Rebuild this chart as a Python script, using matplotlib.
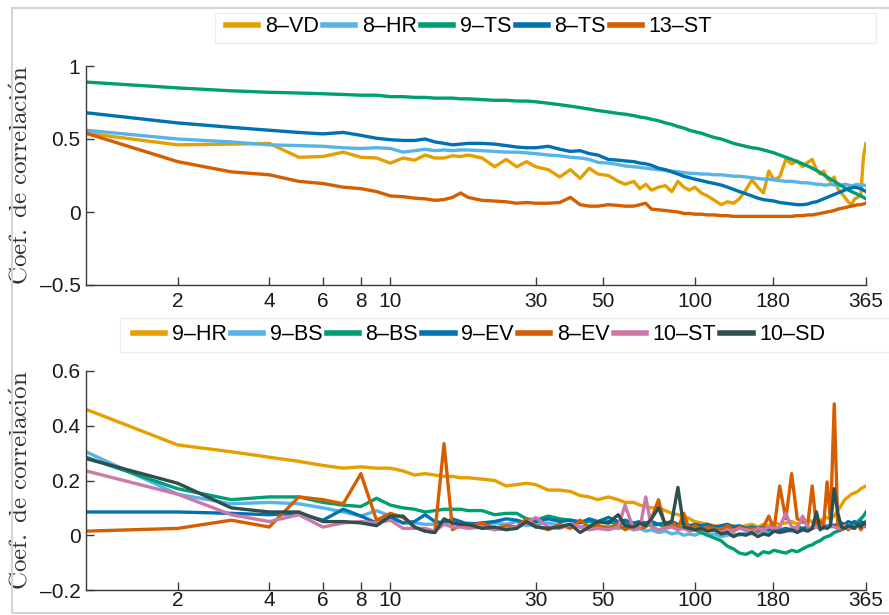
import matplotlib
matplotlib.use("Agg")
import matplotlib.pyplot as plt
from matplotlib.ticker import FixedLocator, FixedFormatter, NullLocator
from matplotlib.patches import Rectangle

plt.rcParams["font.family"] = "Liberation Sans"
plt.rcParams["mathtext.fontset"] = "cm"

# lag in days (shared by every series)
days = [1, 2, 3, 4, 5, 6, 7, 8, 9, 10, 11, 12, 13, 14, 15, 16, 17, 18, 20,
        22, 24, 26, 28, 30, 33, 36, 39, 42, 45, 48,
        52, 56, 59, 63, 66, 69, 72, 76, 80, 84, 88, 92, 96, 100,
        105, 110, 116, 122, 128, 134, 140, 147, 154, 161, 168, 175, 182, 190,
        199, 208, 217, 226, 235, 243, 251, 258, 265, 272, 279, 287, 295, 303,
        311, 319, 327, 335, 343, 351, 358, 365]

xticks = [2, 4, 6, 8, 10, 30, 50, 100, 180, 365]
xtick_labels = ["2", "4", "6", "8", "10", "30", "50", "100", "180", "365"]

# ---- top panel
top_labels = ["8–VD", "8–HR", "9–TS", "8–TS", "13–ST"]
vd8 = [0.54, 0.46, 0.465, 0.47, 0.375, 0.38, 0.41, 0.375, 0.37, 0.335, 0.37, 0.355, 0.39, 0.37, 0.37, 0.385, 0.38, 0.39, 0.37,
       0.31, 0.36, 0.31, 0.345, 0.31, 0.29, 0.24, 0.29, 0.23, 0.30, 0.26,
       0.25, 0.21, 0.19, 0.21, 0.16, 0.19, 0.15, 0.17, 0.18, 0.14, 0.21, 0.17, 0.15, 0.17,
       0.13, 0.11, 0.08, 0.05, 0.07, 0.06, 0.09, 0.15, 0.22, 0.17, 0.13, 0.28, 0.22, 0.24,
       0.36, 0.33, 0.35, 0.31, 0.34, 0.36, 0.29, 0.26, 0.28, 0.23, 0.21, 0.24, 0.16, 0.13,
       0.10, 0.07, 0.05, 0.09, 0.10, 0.12, 0.38, 0.47]
hr8 = [0.56, 0.50, 0.48, 0.46, 0.455, 0.45, 0.44, 0.435, 0.44, 0.435, 0.41, 0.42, 0.43, 0.42, 0.425, 0.42, 0.425, 0.425, 0.42,
       0.415, 0.41, 0.41, 0.405, 0.40, 0.39, 0.385, 0.375, 0.37, 0.36, 0.34,
       0.335, 0.325, 0.315, 0.31, 0.305, 0.30, 0.295, 0.29, 0.285, 0.28, 0.275, 0.27, 0.265, 0.265,
       0.26, 0.26, 0.255, 0.255, 0.25, 0.245, 0.245, 0.24, 0.235, 0.23, 0.225, 0.225, 0.22, 0.215,
       0.21, 0.21, 0.205, 0.20, 0.20, 0.195, 0.19, 0.19, 0.185, 0.185, 0.19, 0.185, 0.18, 0.185,
       0.19, 0.185, 0.18, 0.185, 0.19, 0.18, 0.185, 0.18]
ts9 = [0.89, 0.85, 0.83, 0.82, 0.815, 0.81, 0.805, 0.80, 0.80, 0.79, 0.79, 0.785, 0.785, 0.78, 0.78, 0.78, 0.775, 0.775, 0.77,
       0.765, 0.765, 0.76, 0.76, 0.755, 0.745, 0.735, 0.725, 0.715, 0.705, 0.695,
       0.685, 0.675, 0.67, 0.66, 0.65, 0.645, 0.635, 0.625, 0.61, 0.60, 0.585, 0.575, 0.56, 0.55,
       0.54, 0.525, 0.51, 0.50, 0.485, 0.47, 0.46, 0.45, 0.44, 0.435, 0.425, 0.415, 0.405, 0.39,
       0.375, 0.36, 0.345, 0.33, 0.315, 0.30, 0.285, 0.27, 0.255, 0.24, 0.225, 0.21, 0.195, 0.18,
       0.165, 0.15, 0.14, 0.13, 0.12, 0.11, 0.10, 0.09]
ts8 = [0.68, 0.61, 0.58, 0.56, 0.545, 0.535, 0.545, 0.525, 0.505, 0.495, 0.49, 0.49, 0.50, 0.48, 0.47, 0.46, 0.465, 0.47, 0.47,
       0.465, 0.455, 0.445, 0.44, 0.44, 0.45, 0.43, 0.415, 0.42, 0.40, 0.39,
       0.36, 0.355, 0.35, 0.345, 0.335, 0.33, 0.32, 0.30, 0.29, 0.275, 0.26, 0.245, 0.235, 0.225,
       0.215, 0.205, 0.195, 0.185, 0.17, 0.155, 0.14, 0.125, 0.11, 0.095, 0.085, 0.08, 0.075, 0.065,
       0.06, 0.055, 0.05, 0.05, 0.055, 0.065, 0.07, 0.08, 0.09, 0.10, 0.11, 0.12, 0.13, 0.14,
       0.15, 0.16, 0.165, 0.17, 0.165, 0.16, 0.15, 0.14]
st13 = [0.54, 0.345, 0.275, 0.255, 0.21, 0.195, 0.17, 0.16, 0.14, 0.11, 0.105, 0.095, 0.09, 0.08, 0.085, 0.10, 0.13, 0.10, 0.08,
        0.075, 0.07, 0.06, 0.065, 0.06, 0.06, 0.065, 0.10, 0.05, 0.04, 0.04,
        0.05, 0.045, 0.04, 0.04, 0.05, 0.06, 0.02, 0.015, 0.01, 0.005, 0.0, -0.01, -0.01, -0.015,
        -0.015, -0.02, -0.02, -0.025, -0.025, -0.03, -0.03, -0.03, -0.03, -0.03, -0.03, -0.03, -0.03, -0.03,
        -0.03, -0.03, -0.025, -0.025, -0.02, -0.02, -0.015, -0.01, -0.005, 0.0, 0.005, 0.01, 0.02, 0.025,
        0.03, 0.035, 0.04, 0.045, 0.05, 0.05, 0.055, 0.06]
top_series = [vd8, hr8, ts9, ts8, st13]

# ---- bottom panel
bot_labels = ["9–HR", "9–BS", "8–BS", "9–EV", "8–EV", "10–ST", "10–SD"]
hr9 = [0.46, 0.33, 0.305, 0.285, 0.27, 0.255, 0.245, 0.25, 0.245, 0.245, 0.235, 0.22, 0.225, 0.22, 0.215, 0.215, 0.21, 0.21, 0.205,
       0.20, 0.18, 0.185, 0.19, 0.185, 0.165, 0.165, 0.16, 0.145, 0.14, 0.13,
       0.14, 0.13, 0.12, 0.12, 0.11, 0.105, 0.10, 0.10, 0.09, 0.08, 0.075, 0.07, 0.06, 0.05,
       0.045, 0.04, 0.035, 0.03, 0.03, 0.035, 0.03, 0.035, 0.04, 0.03, 0.04, 0.035, 0.045, 0.04,
       0.045, 0.05, 0.04, 0.05, 0.055, 0.05, 0.06, 0.055, 0.06, 0.065, 0.06, 0.07, 0.09, 0.11,
       0.13, 0.14, 0.15, 0.155, 0.16, 0.17, 0.175, 0.18]
bs9 = [0.305, 0.15, 0.115, 0.12, 0.115, 0.10, 0.085, 0.07, 0.09, 0.07, 0.045, 0.045, 0.04, 0.04, 0.045, 0.05, 0.04, 0.045, 0.04,
       0.045, 0.04, 0.05, 0.035, 0.04, 0.045, 0.035, 0.04, 0.03, 0.035, 0.03,
       0.035, 0.025, 0.03, 0.02, 0.025, 0.015, 0.02, 0.01, 0.015, 0.005, 0.01, 0.0, 0.005, 0.0,
       0.01, 0.0, 0.005, -0.005, 0.0, 0.005, 0.0, 0.01, 0.005, 0.01, 0.015, 0.01, 0.02, 0.015,
       0.02, 0.015, 0.02, 0.025, 0.02, 0.025, 0.03, 0.025, 0.03, 0.035, 0.03, 0.035, 0.04, 0.035,
       0.04, 0.03, 0.035, 0.04, 0.035, 0.04, 0.045, 0.04]
bs8 = [0.285, 0.17, 0.13, 0.14, 0.14, 0.12, 0.11, 0.105, 0.135, 0.11, 0.10, 0.095, 0.085, 0.09, 0.095, 0.095, 0.095, 0.09, 0.09,
       0.075, 0.08, 0.08, 0.06, 0.055, 0.07, 0.06, 0.055, 0.05, 0.05, 0.045,
       0.05, 0.04, 0.045, 0.04, 0.035, 0.04, 0.035, 0.04, 0.03, 0.035, 0.03, 0.025, 0.03, 0.02,
       0.01, 0.0, -0.01, -0.02, -0.04, -0.05, -0.065, -0.07, -0.06, -0.075, -0.06, -0.065, -0.055, -0.06,
       -0.065, -0.055, -0.06, -0.05, -0.04, -0.035, -0.025, -0.02, -0.01, -0.005, 0.0, 0.01, 0.015, 0.02,
       0.025, 0.03, 0.035, 0.04, 0.05, 0.06, 0.07, 0.085]
ev9 = [0.085, 0.085, 0.08, 0.075, 0.08, 0.055, 0.095, 0.07, 0.045, 0.065, 0.045, 0.05, 0.075, 0.05, 0.045, 0.06, 0.05, 0.04, 0.045,
       0.05, 0.06, 0.055, 0.045, 0.05, 0.06, 0.05, 0.055, 0.045, 0.06, 0.05,
       0.065, 0.05, 0.055, 0.045, 0.05, 0.045, 0.05, 0.04, 0.045, 0.05, 0.04, 0.045, 0.035, 0.04,
       0.035, 0.04, 0.03, 0.035, 0.04, 0.03, 0.035, 0.025, 0.03, 0.025, 0.03, 0.02, 0.025, 0.02,
       0.025, 0.02, 0.03, 0.025, 0.03, 0.025, 0.035, 0.03, 0.035, 0.03, 0.04, 0.035, 0.04, 0.045,
       0.04, 0.05, 0.045, 0.05, 0.04, 0.05, 0.045, 0.05]
ev8 = [0.015, 0.025, 0.055, 0.03, 0.14, 0.13, 0.115, 0.225, 0.055, 0.08, 0.065, 0.03, 0.015, 0.01, 0.335, 0.02, 0.04, 0.03, 0.045,
       0.025, 0.035, 0.03, 0.06, 0.035, 0.02, 0.04, 0.025, 0.055, 0.03, 0.035,
       0.025, 0.04, 0.02, 0.035, 0.025, 0.03, 0.06, 0.13, 0.03, 0.05, 0.025, 0.08, 0.02, 0.035,
       0.02, 0.03, 0.025, 0.02, 0.035, 0.015, 0.03, 0.02, 0.025, 0.015, 0.03, 0.07, 0.02, 0.18,
       0.06, 0.225, 0.06, 0.05, 0.04, 0.18, 0.03, 0.05, 0.04, 0.195, 0.05, 0.48, 0.03, 0.02,
       0.035, 0.02, 0.03, 0.025, 0.04, 0.02, 0.035, 0.03]
st10 = [0.235, 0.15, 0.075, 0.05, 0.075, 0.03, 0.045, 0.05, 0.045, 0.055, 0.025, 0.025, 0.025, 0.015, 0.04, 0.03, 0.03, 0.025, 0.03,
        0.02, 0.025, 0.03, 0.045, 0.065, 0.03, 0.025, 0.04, 0.03, 0.02, 0.025,
        0.02, 0.03, 0.11, 0.02, 0.025, 0.14, 0.03, 0.02, 0.025, 0.03, 0.02, 0.025, 0.015, 0.02,
        0.025, 0.015, 0.02, 0.01, 0.02, 0.015, 0.025, 0.02, 0.015, 0.025, 0.02, 0.03, 0.025, 0.03,
        0.08, 0.03, 0.025, 0.07, 0.03, 0.025, 0.03, 0.035, 0.025, 0.03, 0.035, 0.03, 0.025, 0.03,
        0.035, 0.03, 0.025, 0.03, 0.04, 0.03, 0.035, 0.04]
sd10 = [0.28, 0.19, 0.10, 0.085, 0.085, 0.05, 0.05, 0.045, 0.035, 0.07, 0.07, 0.03, 0.015, 0.01, 0.06, 0.045, 0.04, 0.04, 0.025,
        0.03, 0.02, 0.025, 0.05, 0.03, 0.025, 0.03, 0.04, 0.01, 0.03, 0.05,
        0.045, 0.075, 0.035, 0.03, 0.045, 0.035, 0.06, 0.10, 0.04, 0.05, 0.175, 0.03, 0.025, 0.02,
        0.025, 0.015, 0.02, 0.005, 0.01, -0.005, 0.005, 0.0, 0.01, -0.005, 0.005, 0.0, 0.015, 0.01,
        0.015, 0.02, 0.01, 0.02, 0.015, 0.025, 0.085, 0.02, 0.03, 0.025, 0.035, 0.17, 0.08, 0.03,
        0.025, 0.035, 0.03, 0.025, 0.04, 0.03, 0.045, 0.04]
bot_series = [hr9, bs9, bs8, ev9, ev8, st10, sd10]

top_yticks = [-0.5, 0, 0.5, 1]
top_ylabels = ["–0.5", "0", "0.5", "1"]
bot_yticks = [-0.2, 0, 0.2, 0.4, 0.6]
bot_ylabels = ["–0.2", "0", "0.2", "0.4", "0.6"]

top_colors = ["#E69F00", "#56B4E9", "#009E73", "#0072B2", "#D55E00"]
bot_colors = ["#E69F00", "#56B4E9", "#009E73", "#0072B2", "#D55E00", "#CC79A7", "#2F4F4F"]

W, H = 889, 615
fig = plt.figure(figsize=(W / 100, H / 100), dpi=100)


def box(x0, y0, x1, y1, **kw):
    # rectangle given in pixels from the top-left corner
    fig.patches.append(Rectangle((x0 / W, 1 - y1 / H), (x1 - x0) / W, (y1 - y0) / H,
                                 transform=fig.transFigure, fill=False, **kw))


# light frame around the figure and faint legend boxes
box(12, 8, 900, 613, edgecolor="#d4d4d4", linewidth=1.5)
box(215, 13, 876, 43, edgecolor="#ededed", linewidth=1.0)
box(120, 318, 895, 352, edgecolor="#ededed", linewidth=1.0)

ax1 = fig.add_axes([86 / W, 1 - 285 / H, 780 / W, 219 / H])
ax2 = fig.add_axes([86 / W, 1 - 590 / H, 780 / W, 219 / H])


def style(ax, yticks, ylabels, ylim, xpad):
    ax.set_xscale("log")
    ax.set_xlim(1, 365)
    ax.set_ylim(*ylim)
    ax.xaxis.set_major_locator(FixedLocator(xticks))
    ax.xaxis.set_major_formatter(FixedFormatter(xtick_labels))
    ax.xaxis.set_minor_locator(NullLocator())
    ax.yaxis.set_major_locator(FixedLocator(yticks))
    ax.yaxis.set_major_formatter(FixedFormatter(ylabels))
    ax.yaxis.set_minor_locator(NullLocator())
    ax.spines["top"].set_visible(False)
    ax.spines["right"].set_visible(False)
    for s in ("left", "bottom"):
        ax.spines[s].set_color("#3a3a3a")
        ax.spines[s].set_linewidth(1.0)
    ax.tick_params(direction="in", length=6, width=1.0, color="#3a3a3a",
                   labelsize=15, labelcolor="#1a1a1a")
    ax.tick_params(axis="x", pad=xpad)
    ax.tick_params(axis="y", pad=4)
    ax.set_ylabel(r"$\mathrm{Coef.\ de\ correlaci\acute{o}n}$", fontsize=18,
                  color="#333333")
    ax.yaxis.set_label_coords(-53 / 780, 0.5)
    ax.patch.set_alpha(0)


for vals, lab, col in zip(top_series, top_labels, top_colors):
    ax1.plot(days, vals, color=col, lw=2.4, label=lab)
for vals, lab, col in zip(bot_series, bot_labels, bot_colors):
    ax2.plot(days, vals, color=col, lw=2.4, label=lab)

style(ax1, top_yticks, top_ylabels, (-0.5, 1), 5)
style(ax2, bot_yticks, bot_ylabels, (-0.2, 0.6), 1)

leg_kw = dict(loc="center left", bbox_transform=fig.transFigure, frameon=False,
              handlelength=1.5, handletextpad=0.3, columnspacing=0.2,
              borderpad=0, borderaxespad=0, prop={"size": 15.5})
leg1 = ax1.legend(ncol=5, bbox_to_anchor=(226 / W, 1 - 27 / H), **leg_kw)
leg2 = ax2.legend(ncol=7, bbox_to_anchor=(133 / W, 1 - 335 / H), **leg_kw)
for lg in (leg1, leg2):
    for ln in lg.get_lines():
        ln.set_linewidth(4)

fig.savefig("out.png", dpi=100)
